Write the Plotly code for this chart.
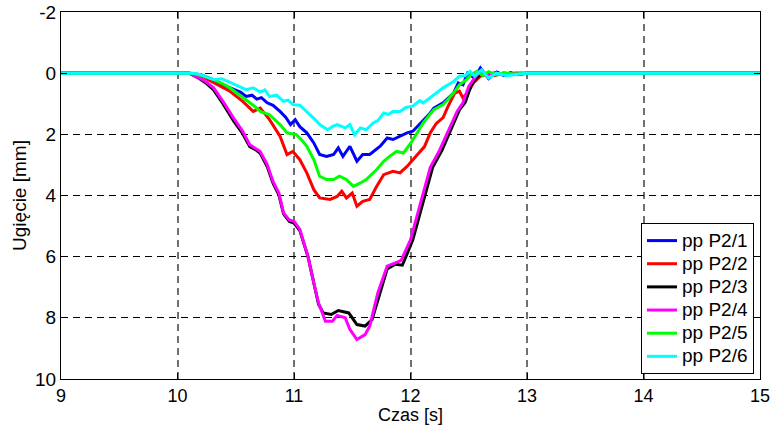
import plotly.graph_objects as go

# ---- data (time [s], deflection [mm]) ----
t_p1 = [9, 10.1, 10.2, 10.31, 10.39, 10.48, 10.54, 10.59, 10.64, 10.68,
        10.72, 10.77, 10.82, 10.88, 10.93, 10.97, 11.01, 11.05, 11.08, 11.11,
        11.17, 11.22, 11.28, 11.34, 11.38, 11.42, 11.48, 11.54, 11.59, 11.65,
        11.74, 11.80, 11.85, 11.91, 11.97, 12.02, 12.11, 12.17, 12.2, 12.28,
        12.37, 12.41, 12.45, 12.49, 12.55, 12.60, 12.67, 12.74, 12.8, 12.86,
        12.92, 13.0, 15]
y_p1 = [0, 0, 0.05, 0.22, 0.38, 0.54, 0.62, 0.76, 0.72, 0.85,
        0.80, 0.97, 1.05, 1.25, 1.45, 1.68, 1.52, 1.75, 1.85, 1.95,
        2.28, 2.66, 2.72, 2.66, 2.44, 2.72, 2.39, 2.88, 2.66, 2.66,
        2.39, 2.12, 2.17, 2.06, 1.95, 1.90, 1.55, 1.30, 1.14, 0.97,
        0.65, 0.32, 0.38, 0.0, 0.16, -0.17, 0.18, -0.04, 0.08, -0.02,
        0.05, 0.0, 0]

t_p2 = [9, 10.1, 10.2, 10.31, 10.38, 10.45, 10.51, 10.56, 10.65, 10.71,
        10.79, 10.88, 10.94, 10.99, 11.05, 11.11, 11.17, 11.22, 11.31, 11.37,
        11.41, 11.45, 11.50, 11.54, 11.59, 11.65, 11.71, 11.77, 11.85, 11.91,
        11.97, 12.05, 12.12, 12.17, 12.22, 12.28, 12.32, 12.38, 12.42, 12.45,
        12.50, 12.54, 12.60, 12.66, 12.72, 12.8, 12.9, 13.0, 15]
y_p2 = [0, 0, 0.08, 0.32, 0.45, 0.59, 0.78, 0.92, 1.25, 1.14,
        1.52, 2.06, 2.66, 2.56, 2.83, 3.26, 3.81, 4.08, 4.13, 4.03,
        3.86, 4.08, 3.92, 4.35, 4.19, 4.13, 3.70, 3.32, 3.21, 3.26,
        3.05, 2.70, 2.40, 1.95, 1.65, 1.45, 1.10, 0.65, 0.59, 0.81,
        0.59, 0.32, 0.10, 0.04, 0.08, 0.0, 0.03, 0, 0]

t_p3 = [9, 10.1, 10.19, 10.25, 10.31, 10.39, 10.48, 10.56, 10.62, 10.67,
        10.71, 10.77, 10.82, 10.87, 10.91, 10.96, 11.0, 11.05, 11.12, 11.17,
        11.21, 11.25, 11.32, 11.38, 11.47, 11.54, 11.61, 11.67, 11.72, 11.80,
        11.87, 11.93, 12.02, 12.1, 12.15, 12.19, 12.27, 12.36, 12.42, 12.47,
        12.52, 12.56, 12.62, 12.68, 12.74, 12.8, 12.9, 13.0, 15]
y_p3 = [0, 0, 0.18, 0.34, 0.55, 1.0, 1.55, 1.98, 2.40, 2.5,
        2.62, 3.05, 3.6, 3.98, 4.6, 4.85, 4.9, 5.15, 6.0, 6.9,
        7.55, 7.84, 7.89, 7.76, 7.84, 8.22, 8.27, 8.06, 7.40, 6.40,
        6.25, 6.28, 5.45, 4.35, 3.7, 3.08, 2.52, 1.74, 1.2, 0.95,
        0.4, 0.18, -0.04, 0.1, -0.02, 0.04, 0.0, 0, 0]

t_p4 = [9, 10.1, 10.19, 10.25, 10.31, 10.39, 10.48, 10.56, 10.62, 10.67,
        10.71, 10.77, 10.82, 10.87, 10.91, 10.96, 11.0, 11.05, 11.12, 11.17,
        11.21, 11.27, 11.33, 11.37, 11.44, 11.48, 11.54, 11.61, 11.65, 11.72,
        11.80, 11.87, 11.92, 12.0, 12.08, 12.13, 12.17, 12.25, 12.34, 12.40,
        12.45, 12.50, 12.54, 12.6, 12.66, 12.72, 12.8, 12.9, 13.0, 15]
y_p4 = [0, 0, 0.16, 0.3, 0.48, 0.92, 1.46, 1.90, 2.34, 2.45,
        2.56, 2.99, 3.54, 3.92, 4.57, 4.8, 4.84, 5.11, 5.99, 6.86,
        7.51, 8.11, 8.11, 7.92, 8.0, 8.38, 8.71, 8.55, 8.27, 7.18,
        6.31, 6.20, 6.12, 5.45, 4.35, 3.7, 3.08, 2.52, 1.74, 1.25,
        0.97, 0.43, 0.21, -0.06, 0.10, -0.02, 0.05, 0.0, 0, 0]

t_p5 = [9, 10.12, 10.2, 10.31, 10.38, 10.45, 10.52, 10.59, 10.65, 10.71,
        10.79, 10.88, 10.94, 11.02, 11.07, 11.11, 11.17, 11.22, 11.28, 11.34,
        11.39, 11.45, 11.51, 11.57, 11.62, 11.71, 11.77, 11.82, 11.88, 11.94,
        12.0, 12.05, 12.11, 12.2, 12.28, 12.37, 12.42, 12.48, 12.52, 12.57,
        12.62, 12.67, 12.74, 12.8, 12.88, 13.0, 15]
y_p5 = [0, 0, 0.07, 0.21, 0.33, 0.48, 0.68, 0.87, 1.05, 1.25,
        1.36, 1.68, 1.95, 2.01, 2.2, 2.39, 2.83, 3.37, 3.48, 3.48,
        3.37, 3.48, 3.70, 3.59, 3.48, 3.15, 2.88, 2.72, 2.56, 2.61,
        2.30, 2.0, 1.62, 1.19, 1.03, 0.65, 0.38, 0.21, 0.05, -0.06,
        0.08, -0.05, 0.06, -0.02, 0.03, 0, 0]

t_p6 = [9, 10.15, 10.22, 10.31, 10.38, 10.45, 10.52, 10.59, 10.65, 10.71,
        10.75, 10.79, 10.85, 10.91, 10.95, 10.99, 11.05, 11.11, 11.14, 11.19,
        11.22, 11.29, 11.33, 11.37, 11.44, 11.48, 11.52, 11.57, 11.62, 11.68,
        11.72, 11.77, 11.81, 11.85, 11.91, 11.96, 12.02, 12.08, 12.11, 12.2,
        12.28, 12.37, 12.42, 12.47, 12.51, 12.55, 12.61, 12.67, 12.74, 12.83,
        12.92, 13.0, 15]
y_p6 = [0, 0, 0.08, 0.21, 0.18, 0.30, 0.40, 0.54, 0.48, 0.62,
        0.55, 0.76, 0.72, 0.92, 0.88, 1.03, 1.05, 1.25, 1.36, 1.55,
        1.68, 1.85, 1.75, 1.68, 1.79, 1.68, 2.01, 1.79, 1.85, 1.63,
        1.55, 1.30, 1.35, 1.25, 1.25, 1.12, 1.08, 0.90, 0.97, 0.70,
        0.48, 0.27, 0.10, 0.08, -0.06, 0.10, -0.11, 0.16, 0.0, 0.08,
        0.03, 0, 0]

names = ["pp P2/1", "pp P2/2", "pp P2/3", "pp P2/4", "pp P2/5", "pp P2/6"]
colors = ["#0000FF", "#FF0000", "#000000", "#FF00FF", "#00FF00", "#00FFFF"]
series_t = [t_p1, t_p2, t_p3, t_p4, t_p5, t_p6]
series_y = [y_p1, y_p2, y_p3, y_p4, y_p5, y_p6]

x_ticks = [9, 10, 11, 12, 13, 14, 15]
y_ticks = [-2, 0, 2, 4, 6, 8, 10]

FONT = "Liberation Sans, Arial, sans-serif"
FS = 19

fig = go.Figure()
for t, y, n, c in zip(series_t, series_y, names, colors):
    fig.add_trace(go.Scatter(
        x=t, y=y, mode="lines",
        name='<span style="font-size:19px">' + n + '</span>',
        line=dict(color=c, width=3)))

fig.update_layout(
    width=772, height=425,
    margin=dict(l=61, r=12, t=12, b=46),
    paper_bgcolor="white", plot_bgcolor="white",
    font=dict(family=FONT, size=FS, color="black"),
    showlegend=True,
    legend=dict(x=0.9914, y=0.0136, xanchor="right", yanchor="bottom",
                bgcolor="white", bordercolor="black", borderwidth=1,
                font=dict(family=FONT, size=15.5, color="black"),
                tracegroupgap=0, itemwidth=30),
)
fig.update_xaxes(
    range=[9, 15], tickvals=x_ticks, ticktext=[str(v) for v in x_ticks],
    showline=True, linecolor="black", linewidth=1, mirror="ticks",
    ticks="inside", ticklen=6, tickcolor="black",
    showgrid=True, gridcolor="#707070", gridwidth=1.5, griddash="7px,5px",
    zeroline=False, automargin=False,
    title=dict(text="Czas [s]", font=dict(family=FONT, size=18), standoff=5),
    tickfont=dict(family=FONT, size=18),
)
fig.update_yaxes(
    range=[10, -2], tickvals=y_ticks, ticktext=[str(v) for v in y_ticks],
    showline=True, linecolor="black", linewidth=1, mirror="ticks",
    ticks="inside", ticklen=6, tickcolor="black",
    showgrid=True, gridcolor="black", gridwidth=1, griddash="7px,5px",
    zeroline=False, automargin=False,
    title=dict(text="Ugięcie [mm]", font=dict(family=FONT, size=FS), standoff=3),
    tickfont=dict(family=FONT, size=FS),
)

fig.write_html("out.html")
